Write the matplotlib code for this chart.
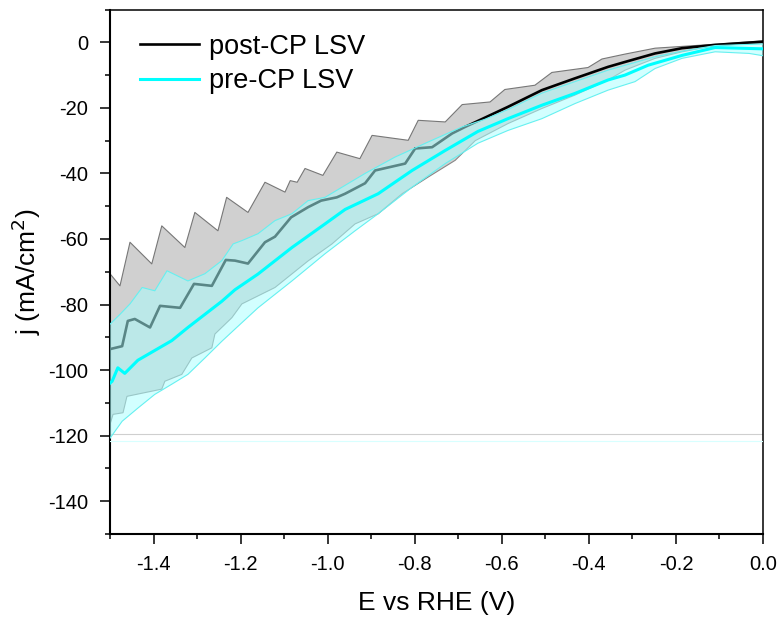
import numpy as np
import matplotlib
matplotlib.use("Agg")
import matplotlib.pyplot as plt

plt.rcParams['font.family'] = ['Liberation Sans', 'DejaVu Sans']

# ---- post-CP LSV (mean, upper and lower edge of the band) ----
post_mean_E = [-1.500, -1.472, -1.459, -1.443, -1.408, -1.385, -1.339, -1.307, -1.266, -1.234,
               -1.213, -1.183, -1.144, -1.121, -1.084, -1.045, -1.015, -0.979, -0.960, -0.914,
               -0.891, -0.822, -0.799, -0.760, -0.714, -0.684, -0.655, -0.586, -0.508, -0.432,
               -0.356, -0.317, -0.248, -0.186, -0.110, 0.000]
post_mean_j = [-93.6, -92.7, -85.0, -84.4, -87.0, -80.4, -81.0, -73.7, -74.3, -66.4,
               -66.6, -67.5, -61.0, -59.3, -53.4, -50.3, -48.3, -47.3, -46.2, -43.0,
               -39.1, -37.0, -32.4, -32.0, -27.8, -25.8, -24.0, -19.7, -14.6, -11.0,
               -7.5, -6.0, -3.4, -1.8, -0.8, 0.2]

post_up_E = [-1.500, -1.477, -1.454, -1.404, -1.381, -1.328, -1.305, -1.252, -1.232, -1.183,
             -1.144, -1.098, -1.086, -1.070, -1.052, -1.011, -0.979, -0.926, -0.898, -0.815,
             -0.792, -0.730, -0.691, -0.627, -0.593, -0.524, -0.485, -0.402, -0.370, -0.317,
             -0.248, -0.110, 0.000]
post_up_j = [-70.6, -74.3, -61.0, -67.6, -56.0, -62.6, -51.9, -57.5, -47.3, -51.9,
             -42.7, -45.7, -42.2, -42.7, -38.5, -40.6, -33.5, -35.5, -28.4, -29.9,
             -23.8, -24.3, -19.0, -18.2, -14.4, -13.1, -9.2, -7.7, -5.1, -3.6,
             -1.8, -0.6, 0.4]

post_lo_E = [-1.500, -1.493, -1.470, -1.461, -1.381, -1.374, -1.335, -1.312, -1.266, -1.259,
             -1.220, -1.197, -1.121, -1.045, -0.990, -0.937, -0.884, -0.829, -0.769, -0.707,
             -0.661, -0.586, -0.508, -0.432, -0.356, -0.317, -0.248, -0.186, -0.110, 0.000]
post_lo_j = [-116.6, -113.5, -113.0, -108.0, -105.8, -103.4, -101.3, -96.3, -93.2, -89.0,
             -84.0, -79.8, -74.8, -66.7, -61.5, -55.4, -52.3, -46.2, -41.1, -36.0,
             -30.0, -24.8, -20.2, -16.1, -11.5, -8.5, -4.9, -2.9, -1.0, -0.2]

# ---- pre-CP LSV ----
pre_mean_E = [-1.500, -1.495, -1.482, -1.466, -1.436, -1.397, -1.358, -1.321, -1.282, -1.243,
              -1.213, -1.160, -1.082, -1.006, -0.960, -0.884, -0.806, -0.730, -0.655, -0.586,
              -0.508, -0.432, -0.356, -0.317, -0.264, -0.186, -0.110, 0.000]
pre_mean_j = [-104.0, -103.4, -99.3, -101.0, -97.0, -94.0, -91.0, -87.0, -83.0, -79.0,
              -75.5, -70.7, -62.6, -55.4, -51.0, -46.2, -39.1, -33.0, -27.2, -23.3,
              -19.2, -15.6, -11.5, -10.0, -7.0, -4.0, -1.6, -2.0]

pre_up_E = [-1.500, -1.477, -1.454, -1.426, -1.397, -1.369, -1.321, -1.282, -1.243, -1.217,
            -1.197, -1.160, -1.121, -1.082, -1.045, -1.006, -0.967, -0.914, -0.845, -0.769,
            -0.691, -0.639, -0.586, -0.508, -0.432, -0.356, -0.248, -0.186, -0.110, 0.000]
pre_up_j = [-86.0, -83.0, -79.8, -74.8, -75.8, -69.7, -72.8, -70.6, -66.6, -61.5,
            -60.5, -58.4, -54.4, -52.3, -48.3, -47.3, -44.2, -40.0, -35.0, -30.4,
            -25.8, -23.5, -20.5, -15.5, -12.0, -8.5, -4.4, -2.7, -1.0, -0.5]

pre_lo_E = [-1.500, -1.472, -1.436, -1.397, -1.358, -1.321, -1.282, -1.243, -1.213, -1.160,
            -1.082, -1.006, -0.937, -0.884, -0.806, -0.730, -0.655, -0.586, -0.508, -0.432,
            -0.356, -0.294, -0.248, -0.186, -0.110, -0.032, 0.000]
pre_lo_j = [-120.8, -115.6, -111.6, -107.4, -104.3, -101.3, -96.3, -91.2, -87.5, -81.0,
            -72.8, -64.5, -57.5, -52.3, -44.2, -37.0, -30.8, -26.9, -23.3, -18.7,
            -14.6, -12.0, -8.0, -4.9, -2.9, -3.4, -4.1]

# fill baselines (drawn as faint horizontal lines in the original)
post_base_j = -119.6
pre_base_j = -121.5

x_ticks = [-1.4, -1.2, -1.0, -0.8, -0.6, -0.4, -0.2, 0.0]
y_ticks = [0, -20, -40, -60, -80, -100, -120, -140]

fig = plt.figure(figsize=(7.81, 6.17), dpi=100)
ax = fig.add_axes([0.1408, 0.1345, 0.8362, 0.8501])

# post-CP band
poly_x = np.concatenate([post_up_E, post_lo_E[::-1]])
poly_y = np.concatenate([post_up_j, post_lo_j[::-1]])
ax.fill(poly_x, poly_y, color='#d0d0d0', lw=0, zorder=1)
ax.plot(post_up_E, post_up_j, color='#777777', lw=0.8, zorder=2)
ax.plot(post_lo_E, post_lo_j, color='#888888', lw=0.8, zorder=2)
ax.axhline(post_base_j, color='#cfcfcf', lw=0.8, zorder=2)
ax.plot(post_mean_E, post_mean_j, color='black', lw=1.9, zorder=3, label='post-CP LSV')

# pre-CP band
poly_x2 = np.concatenate([pre_up_E, pre_lo_E[::-1]])
poly_y2 = np.concatenate([pre_up_j, pre_lo_j[::-1]])
ax.fill(poly_x2, poly_y2, color=(170/255, 1, 1), alpha=0.53, lw=0, zorder=4)
ax.plot(pre_up_E, pre_up_j, color='#66f0f0', lw=0.8, zorder=5)
ax.plot(pre_lo_E, pre_lo_j, color='#66f0f0', lw=0.8, zorder=5)
ax.axhline(pre_base_j, color='#d8ffff', lw=0.8, zorder=5)
ax.plot(pre_mean_E, pre_mean_j, color='#00ffff', lw=2.2, zorder=6, label='pre-CP LSV')

ax.set_xlim(-1.5, 0.0)
ax.set_ylim(-150, 10)
ax.set_xticks(x_ticks)
ax.set_xticklabels([f'{v:.1f}' for v in x_ticks])
ax.set_yticks(y_ticks)
ax.set_yticklabels([str(v) for v in y_ticks])
ax.set_xticks(np.arange(-1.5, 0.001, 0.1), minor=True)
ax.set_yticks(np.arange(-150, 10.1, 10), minor=True)
ax.tick_params(which='major', direction='out', length=7, width=1.1, labelsize=14.5)
ax.tick_params(axis='x', which='major', pad=8)
ax.tick_params(axis='y', which='major', pad=8.5)
ax.tick_params(which='minor', direction='out', length=3.5, width=1.1)
for s in ['left', 'bottom']:
    ax.spines[s].set_linewidth(1.5)
for s in ['top', 'right']:
    ax.spines[s].set_linewidth(1.1)

ax.set_xlabel('E vs RHE (V)', fontsize=19, labelpad=12)
ax.set_ylabel('j (mA/cm$^2$)', fontsize=19, labelpad=4)

ax.legend(loc='upper left', frameon=False, fontsize=19.5, handlelength=2.2,
          handletextpad=0.35, labelspacing=0.3, borderaxespad=0.5,
          bbox_to_anchor=(0.008, 1.0))

fig.savefig('out.png', dpi=100)
